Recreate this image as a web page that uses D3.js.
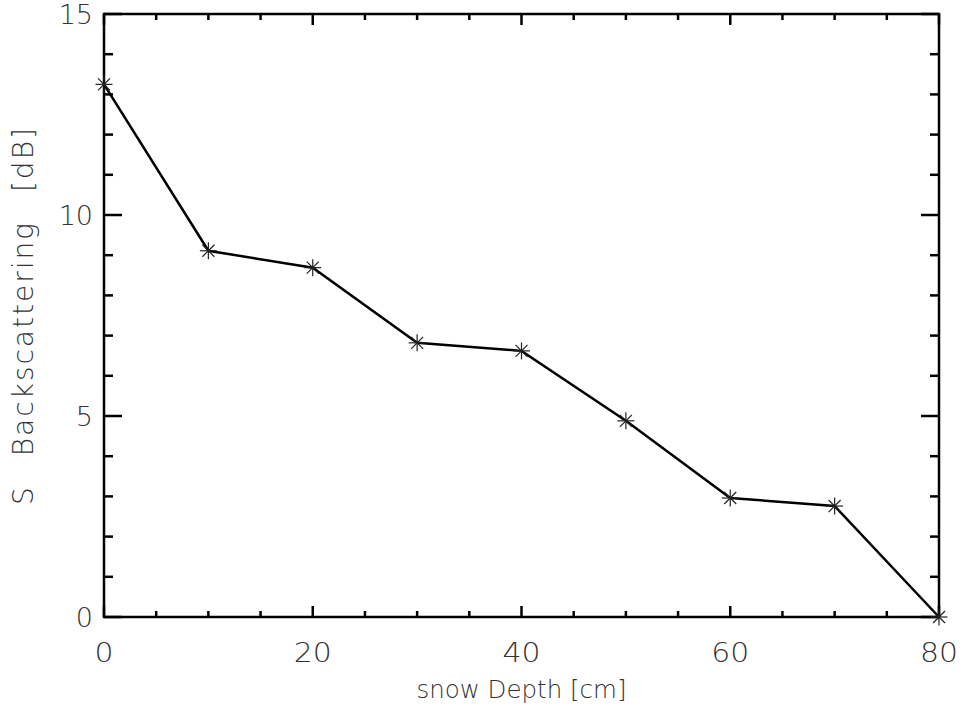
<!DOCTYPE html>
<html>
<head>
<meta charset="utf-8">
<script src="https://cdn.jsdelivr.net/npm/d3@7"></script>
<style>
  body { margin: 0; background: #fff; }
  text { font-family: 'DejaVu Sans', sans-serif; font-weight: 200; fill: #333; }
</style>
</head>
<body>
<div class="chart"></div>
<script>
var depths = [0, 10, 20, 30, 40, 50, 60, 70, 80];
var backscatter = [13.25, 9.11, 8.69, 6.82, 6.62, 4.88, 2.96, 2.76, 0];
var xTicks = [0, 20, 40, 60, 80];
var yTicks = [0, 5, 10, 15];

var margin = { top: 14, right: 22, bottom: 97, left: 104 };
var fullWidth = 961, fullHeight = 714;
var width = fullWidth - margin.left - margin.right;
var height = fullHeight - margin.top - margin.bottom;

var svg = d3.select('.chart')
  .append('svg')
  .attr('width', fullWidth)
  .attr('height', fullHeight)
  .append('g')
  .attr('transform', 'translate(' + margin.left + ',' + margin.top + ')');

var xScale = d3.scaleLinear().domain([0, 80]).range([0, width]);
var yScale = d3.scaleLinear().domain([0, 15]).range([height, 0]);

var minorX = d3.range(0, 81, 5).filter(d => xTicks.indexOf(d) < 0);
var minorY = d3.range(0, 16, 1).filter(d => yTicks.indexOf(d) < 0);

// ticks on all four sides, pointing inward
var tickG = svg.append('g').attr('stroke', '#000').attr('stroke-width', 2.5);
function xTick(v, len) {
  tickG.append('line').attr('x1', xScale(v)).attr('x2', xScale(v)).attr('y1', height).attr('y2', height - len);
  tickG.append('line').attr('x1', xScale(v)).attr('x2', xScale(v)).attr('y1', 0).attr('y2', len);
}
function yTick(v, len) {
  tickG.append('line').attr('y1', yScale(v)).attr('y2', yScale(v)).attr('x1', 0).attr('x2', len);
  tickG.append('line').attr('y1', yScale(v)).attr('y2', yScale(v)).attr('x1', width).attr('x2', width - len);
}
xTicks.forEach(d => xTick(d, 11));
minorX.forEach(d => xTick(d, 6));
yTicks.forEach(d => yTick(d, 18));
minorY.forEach(d => yTick(d, 9));

svg.append('rect')
  .attr('width', width).attr('height', height)
  .attr('fill', 'none').attr('stroke', '#000').attr('stroke-width', 2.5);

// tick labels
svg.selectAll('.xl').data(xTicks).enter().append('text')
  .attr('x', d => xScale(d)).attr('y', height + 45)
  .attr('text-anchor', 'middle').style('font-size', '27px')
  .attr('textLength', d => String(d).length * 19)
  .attr('lengthAdjust', 'spacingAndGlyphs')
  .text(d => d);

svg.selectAll('.yl').data(yTicks).enter().append('text')
  .attr('x', -11).attr('y', d => yScale(d)).attr('dy', '0.36em')
  .attr('text-anchor', 'end').style('font-size', '27px')
  .text(d => d);

// axis titles
svg.append('text')
  .attr('x', width / 2).attr('y', height + 81)
  .attr('text-anchor', 'middle').style('font-size', '25px')
  .attr('textLength', 210).attr('lengthAdjust', 'spacingAndGlyphs')
  .text('snow Depth [cm]');

svg.append('text')
  .attr('transform', 'translate(' + (-71) + ',' + (height / 2) + ') rotate(-90)')
  .attr('text-anchor', 'middle').style('font-size', '28px')
  .style('letter-spacing', '2px').style('word-spacing', '18px')
  .text('S Backscattering [dB]');

// data line
var line = d3.line()
  .x((d, i) => xScale(depths[i]))
  .y(d => yScale(d));

svg.append('path')
  .datum(backscatter)
  .attr('d', line)
  .attr('fill', 'none')
  .attr('stroke', '#000')
  .attr('stroke-width', 2.5);

// asterisk markers
var r = 8.5;
var stars = svg.selectAll('.star').data(backscatter).enter().append('g')
  .attr('transform', (d, i) => 'translate(' + xScale(depths[i]) + ',' + yScale(d) + ')')
  .attr('stroke', '#222').attr('stroke-width', 1.2);
[0, 45, 90, 135].forEach(function(a) {
  var rad = a * Math.PI / 180;
  stars.append('line')
    .attr('x1', -r * Math.cos(rad)).attr('y1', -r * Math.sin(rad))
    .attr('x2', r * Math.cos(rad)).attr('y2', r * Math.sin(rad));
});
</script>
</body>
</html>
